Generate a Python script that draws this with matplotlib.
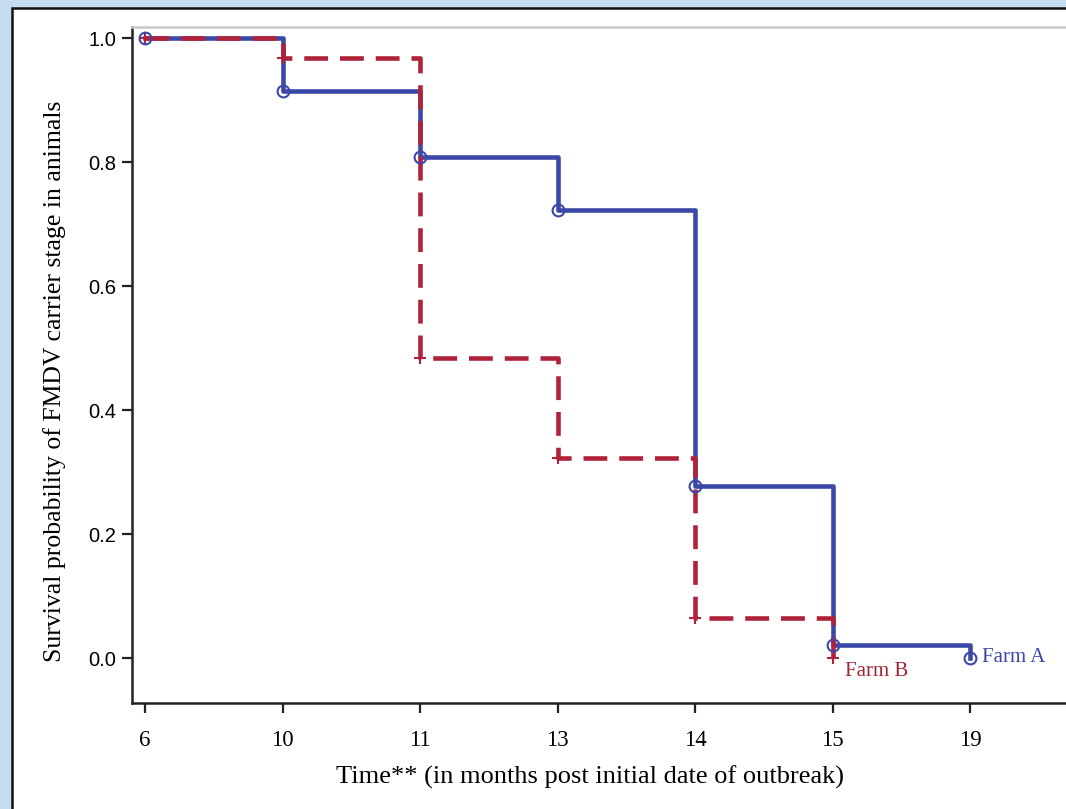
import matplotlib.pyplot as plt
from matplotlib.patches import Rectangle

# months post outbreak (categorical axis, equally spaced)
months = ["6", "10", "11", "13", "14", "15", "19"]

# Kaplan-Meier survival estimates
farm_a = [1.0, 0.915, 0.808, 0.723, 0.277, 0.021, 0.0]
farm_b = [1.0, 0.968, 0.484, 0.323, 0.0645, 0.0]

blue = "#3c48a8"
red = "#b0223a"

W, H = 1066, 809
fig = plt.figure(figsize=(W / 100, H / 100), dpi=100)
fig.patch.set_facecolor("#c6dcf0")

# white panel with black frame, behind the axes
fig.patches.append(Rectangle((12 / W, -0.05), 1.2, 1 - 8 / H + 0.05,
                             transform=fig.transFigure, facecolor="white",
                             edgecolor="#111111", linewidth=1.8, zorder=-5))

x0, x1 = 132, 1085
yb, yt = 703, 27
ax = fig.add_axes([x0 / W, 1 - yb / H, (x1 - x0) / W, (yb - yt) / H])
ax.set_zorder(2)
ax.set_facecolor("white")

xa = list(range(len(farm_a)))
xb = list(range(len(farm_b)))

ax.step(xa, farm_a, where="post", color=blue, lw=3.3, zorder=3)
ax.step(xb, farm_b, where="post", color=red, lw=3.3, ls=(0, (5.2, 2.6)), zorder=4)
ax.plot(xa, farm_a, ls="none", marker="o", ms=8.5, mfc="none", mec=blue, mew=1.5, zorder=6)
ax.plot(xb, farm_b, ls="none", marker="+", ms=9, mec=red, mew=1.5, zorder=5)

ax.text(xa[-1] + 0.09, farm_a[-1], "Farm A", color=blue, family="Liberation Serif",
        fontsize=15, va="center", ha="left")
ax.text(xb[-1] + 0.09, farm_b[-1] - 0.022, "Farm B", color="#a02838", family="Liberation Serif",
        fontsize=15, va="center", ha="left")

# pixel-based limits
px_per_x = (970 - 145) / 6
ax.set_xlim((x0 - 145) / px_per_x, (x1 - 145) / px_per_x)
ax.set_ylim((658 - yb) / 620, (658 - yt) / 620)

ax.set_xticks(xa)
ax.set_xticklabels(months, family="Liberation Serif", fontsize=16.5)
ax.set_yticks([0.0, 0.2, 0.4, 0.6, 0.8, 1.0])
ax.set_yticklabels(["0.0", "0.2", "0.4", "0.6", "0.8", "1.0"],
                   family="Liberation Sans", fontsize=14.5)
ax.tick_params(axis="both", direction="out", length=7.5, width=1.6, color="#222222")
ax.tick_params(axis="x", pad=12)
ax.tick_params(axis="y", pad=4)

for s in ["left", "bottom"]:
    ax.spines[s].set_color("#222222")
    ax.spines[s].set_linewidth(1.8)
ax.spines["top"].set_color("#c8c8c8")
ax.spines["top"].set_linewidth(1.8)
ax.spines["right"].set_visible(False)

ax.set_xlabel("Time** (in months post initial date of outbreak)",
              family="Liberation Serif", fontsize=19)
ax.set_ylabel("Survival probability of FMDV carrier stage in animals",
              family="Liberation Serif", fontsize=18.5)
ax.xaxis.set_label_coords((590 - x0) / (x1 - x0), (yb - 766) / (yb - yt))
ax.yaxis.set_label_coords((66 - x0) / (x1 - x0), (yb - 381) / (yb - yt))

fig.savefig("out.png", dpi=100, facecolor=fig.get_facecolor())
